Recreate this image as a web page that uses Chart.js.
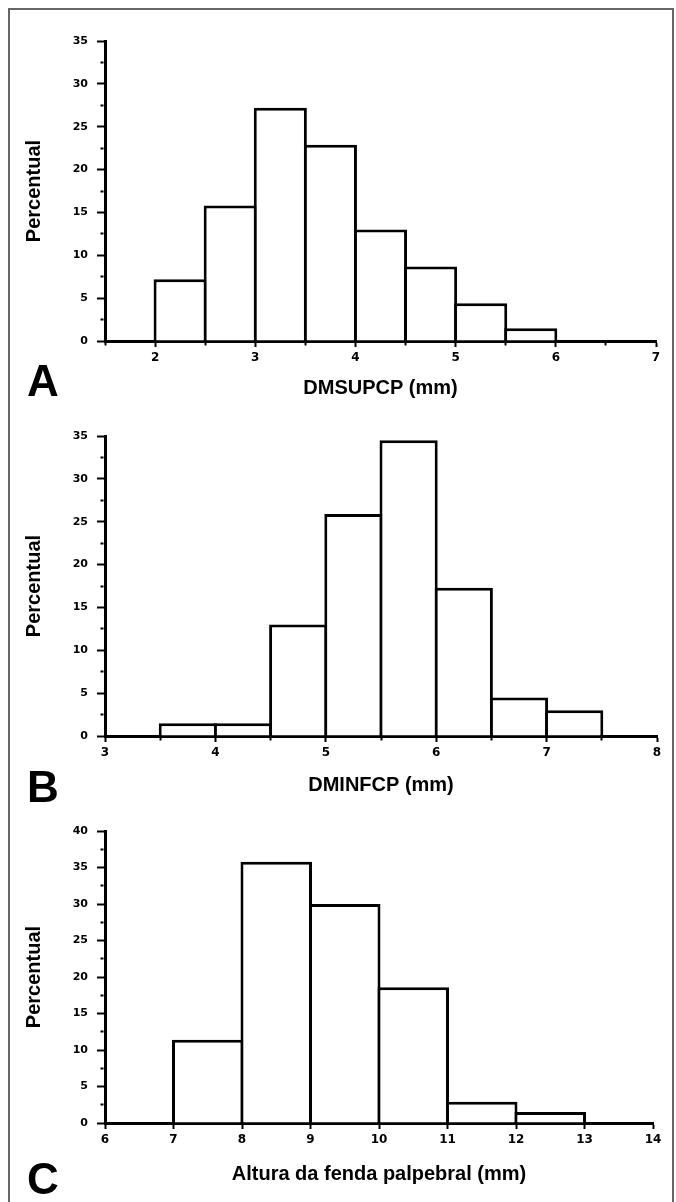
<!DOCTYPE html>
<html>
<head>
<meta charset="utf-8">
<script src="https://cdn.jsdelivr.net/npm/chart.js@4.4.1/dist/chart.umd.min.js"></script>
<style>
  body { margin: 0; background: #fff; width: 676px; height: 1202px; position: relative; overflow: hidden;
         font-family: "Liberation Sans", Arial, sans-serif; }
  .frame { position: absolute; left: 8px; top: 8px; width: 662px; height: 1230px; border: 2px solid #666; }
  .box { position: absolute; left: 0; width: 676px; }
  .letter { position: absolute; left: 27px; font-size: 44px; font-weight: bold; line-height: 1; color: #000; }
</style>
</head>
<body>
<div class="frame"></div>
<div class="box" style="top:0;height:400px"><canvas id="hist-a"></canvas></div>
<div class="box" style="top:380px;height:420px"><canvas id="hist-b"></canvas></div>
<div class="box" style="top:780px;height:422px"><canvas id="hist-c"></canvas></div>
<div class="letter" style="top:359px">A</div>
<div class="letter" style="top:765px">B</div>
<div class="letter" style="top:1157px">C</div>
<script>
// A - DMSUPCP, bins of 0.5 mm (centres)
const binsA = [2.25, 2.75, 3.25, 3.75, 4.25, 4.75, 5.25, 5.75];
const pctA = [7.2, 15.8, 27.2, 22.9, 13.0, 8.7, 4.4, 1.5];

// B - DMINFCP, bins of 0.5 mm
const binsB = [3.75, 4.25, 4.75, 5.25, 5.75, 6.25, 6.75, 7.25];
const pctB = [1.5, 1.5, 13.0, 25.9, 34.5, 17.3, 4.5, 3.0];

// C - altura da fenda palpebral, bins of 1 mm
const binsC = [7.5, 8.5, 9.5, 10.5, 11.5, 12.5];
const pctC = [11.4, 35.8, 30.0, 18.6, 2.9, 1.5];

const yTitle = 'Percentual';

Chart.defaults.font.family = '"Liberation Sans", Arial, sans-serif';
Chart.defaults.color = '#000';

const tickFont = { family: '"DejaVu Sans", sans-serif', weight: 'bold', size: 11 };
const titleFont = { family: '"Liberation Sans", Arial, sans-serif', weight: 'bold', size: 20 };

// minor ticks: only a short piece next to the axis line
const isMajorX = c => !c.tick || Number.isInteger(c.tick.value);
const isMajorY = c => !c.tick || c.tick.value % 5 === 0;

function histogram(id, bins, values, o) {
    return new Chart(document.getElementById(id), {
        type: 'bar',
        data: {
            datasets: [{
                data: bins.map((b, i) => ({ x: b, y: values[i] })),
                backgroundColor: '#fff',
                borderColor: '#000',
                borderWidth: 3,
                categoryPercentage: 1,
                barPercentage: o.barPct
            }]
        },
        options: {
            responsive: true,
            maintainAspectRatio: false,
            animation: false,
            layout: { padding: { top: o.padTop, right: o.padRight, left: 0, bottom: 0 } },
            plugins: { legend: { display: false }, tooltip: { enabled: false } },
            scales: {
                x: {
                    type: 'linear',
                    min: o.xMin,
                    max: o.xMax,
                    offset: false,
                    z: 1,
                    ticks: {
                        stepSize: o.xStep,
                        autoSkip: false,
                        maxRotation: 0,
                        padding: 4,
                        font: { ...tickFont, size: 12 },
                        callback: v => Number.isInteger(v) ? v : ''
                    },
                    grid: {
                        offset: false,
                        drawOnChartArea: false,
                        tickLength: 6,
                        tickColor: '#000',
                        tickWidth: 2,
                        tickBorderDash: c => isMajorX(c) ? [] : [2.5, 20]
                    },
                    border: { display: true, color: '#000', width: 3 },
                    title: { display: true, text: o.xTitle, font: titleFont, padding: { top: 0, bottom: o.titlePad } },
                    afterFit: s => { s.height = o.xHeight; }
                },
                y: {
                    min: 0,
                    max: o.yMax,
                    z: 1,
                    ticks: {
                        stepSize: 2.5,
                        autoSkip: false,
                        padding: 9,
                        font: tickFont,
                        callback: v => v % 5 === 0 ? v : ''
                    },
                    grid: {
                        drawOnChartArea: false,
                        tickLength: 8,
                        tickColor: '#000',
                        tickWidth: 2,
                        tickBorderDash: c => isMajorY(c) ? [] : [0, 3.5, 3, 30]
                    },
                    border: { display: true, color: '#000', width: 3 },
                    title: { display: true, text: yTitle, font: titleFont, padding: { top: 22, bottom: 0 } },
                    afterFit: s => { s.width = 105; }
                }
            }
        }
    });
}

histogram('hist-a', binsA, pctA, {
    xMin: 1.5, xMax: 7, xStep: 0.5, yMax: 35, xTitle: 'DMSUPCP (mm)',
    padTop: 41, padRight: 20, xHeight: 59, titlePad: 0, barPct: 1.06
});
histogram('hist-b', binsB, pctB, {
    xMin: 3, xMax: 8, xStep: 0.5, yMax: 35, xTitle: 'DMINFCP (mm)',
    padTop: 56, padRight: 19, xHeight: 64, titlePad: 3, barPct: 1.054
});
histogram('hist-c', binsC, pctC, {
    xMin: 6, xMax: 14, xStep: 1, yMax: 40, xTitle: 'Altura da fenda palpebral (mm)',
    padTop: 51, padRight: 23, xHeight: 79, titlePad: 16, barPct: 1.044
});
</script>
</body>
</html>
